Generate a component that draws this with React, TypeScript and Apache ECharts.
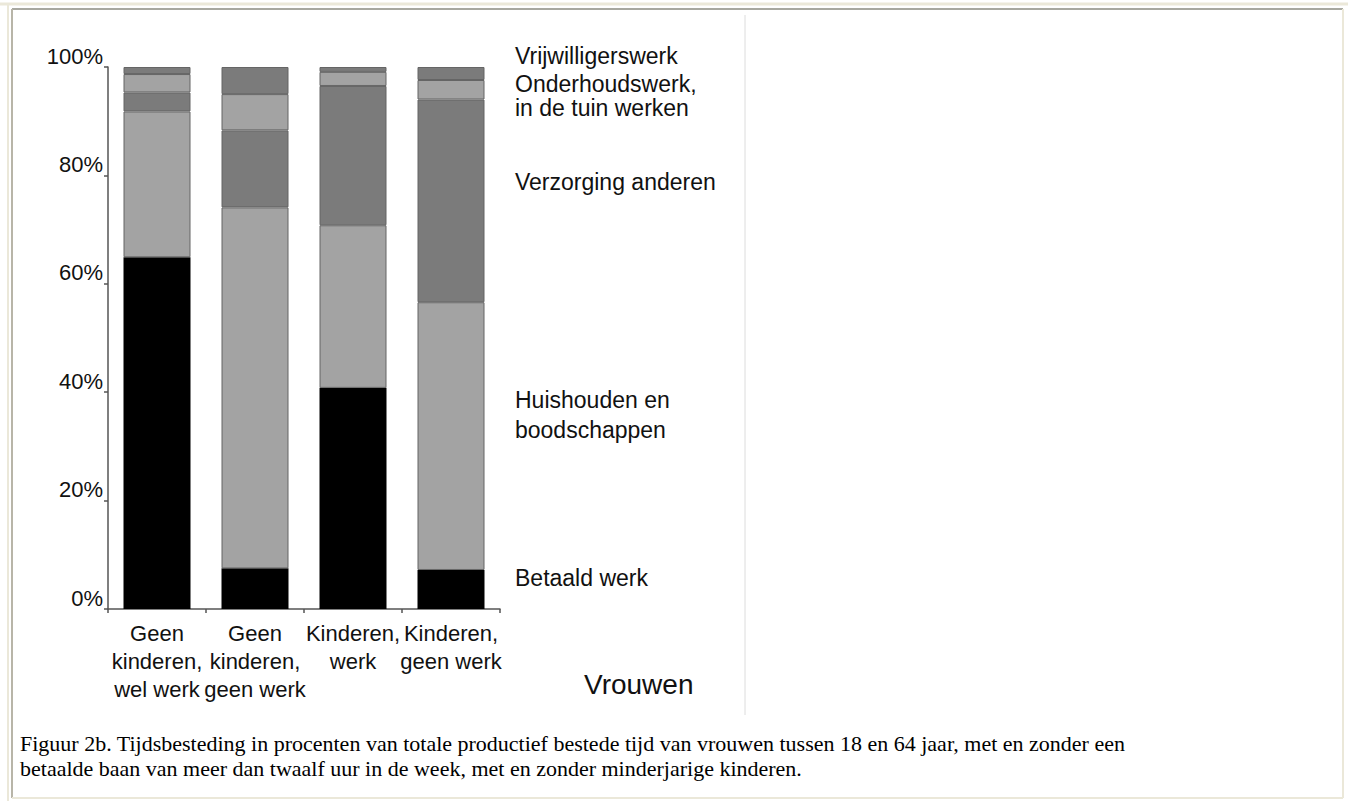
import React, { useEffect, useRef } from "react";
import * as echarts from "echarts";

const categories = [
  "Geen\nkinderen,\nwel werk",
  "Geen\nkinderen,\ngeen werk",
  "Kinderen,\nwerk",
  "Kinderen,\ngeen werk",
];
const seriesNames = [
  "Betaald werk",
  "Huishouden en\nboodschappen",
  "Verzorging anderen",
  "Onderhoudswerk,\nin de tuin werken",
  "Vrijwilligerswerk",
];
const betaald = [64.9, 7.5, 40.8, 7.2];
const huishouden = [26.9, 66.6, 30.0, 49.4];
const verzorging = [3.5, 14.2, 25.7, 37.4];
const onderhoud = [3.4, 6.7, 2.6, 3.6];
const vrijwilligers = [1.3, 5.0, 0.9, 2.4];
const yTicks = [0, 20, 40, 60, 80, 100];
const groupLabel = "Vrouwen";
const captionLines = [
  "Figuur 2b. Tijdsbesteding in procenten van totale productief bestede tijd van vrouwen tussen 18 en 64 jaar, met en zonder een",
  "betaalde baan van meer dan twaalf uur in de week, met en zonder minderjarige kinderen.",
];

const SANS = "'Liberation Sans', Arial, sans-serif";
const SERIF = "'Liberation Serif', 'Times New Roman', serif";

export default function App() {
  const ref = useRef<HTMLDivElement>(null);
  useEffect(() => {
    if (!ref.current) return;
    const chart = echarts.init(ref.current, undefined, { renderer: "svg" });
    const values = [betaald, huishouden, verzorging, onderhoud, vrijwilligers];
    const colors = ["#000000", "#a3a3a3", "#7b7b7b", "#a3a3a3", "#7b7b7b"];
    const series = values.map((v, i) => ({
      name: seriesNames[i],
      type: "bar",
      stack: "total",
      barWidth: 67,
      data: v,
      itemStyle: {
        color: colors[i],
        borderColor: i === 0 ? "#000" : "#656565",
        borderWidth: i === 0 ? 0 : 1,
      },
    }));
    const labelY = [578, 415, 182, 96, 56];
    const labelLH = [24, 30, 24, 24, 24];
    const labelTexts = seriesNames.map((n, i) => ({
      type: "text",
      x: 515,
      y: labelY[i],
      style: {
        text: n,
        font: `23px ${SANS}`,
        fill: "#111",
        textVerticalAlign: "middle",
        lineHeight: labelLH[i],
      },
    }));
    chart.setOption({
      animation: false,
      backgroundColor: "#ffffff",
      grid: { left: 108, top: 67, width: 392, height: 542 },
      xAxis: {
        type: "category",
        data: categories,
        axisLine: { show: true, lineStyle: { color: "#555", width: 1.5 } },
        axisTick: { show: true, length: 4, lineStyle: { color: "#555", width: 1.5 } },
        axisLabel: {
          interval: 0,
          margin: 10,
          fontSize: 22,
          lineHeight: 28,
          fontFamily: SANS,
          color: "#111",
        },
      },
      yAxis: {
        type: "value",
        min: 0,
        max: 100,
        interval: 20,
        axisLine: { show: true, lineStyle: { color: "#555", width: 1.5 } },
        axisTick: { show: true, length: 4, lineStyle: { color: "#555", width: 1.5 } },
        splitLine: { show: false },
        axisLabel: {
          formatter: (v: number) => (yTicks.includes(v) ? `${v}%` : ""),
          verticalAlign: "bottom",
          margin: 5,
          fontSize: 22,
          fontFamily: SANS,
          color: "#111",
        },
      },
      series,
      graphic: [
        { type: "line", shape: { x1: 0, y1: 4, x2: 1348, y2: 4 }, style: { stroke: "#ebe8d9", lineWidth: 3 } },
        { type: "line", shape: { x1: 8, y1: 4, x2: 8, y2: 801 }, style: { stroke: "#ebe8d9", lineWidth: 2 } },
        { type: "line", shape: { x1: 12, y1: 9, x2: 1343, y2: 9 }, style: { stroke: "#a8a8a0", lineWidth: 2 } },
        { type: "line", shape: { x1: 12, y1: 9, x2: 12, y2: 798 }, style: { stroke: "#b8b5a8", lineWidth: 2 } },
        { type: "line", shape: { x1: 1343, y1: 9, x2: 1343, y2: 798 }, style: { stroke: "#ebe8d9", lineWidth: 2 } },
        { type: "line", shape: { x1: 12, y1: 798, x2: 1343, y2: 798 }, style: { stroke: "#ebe8d9", lineWidth: 2 } },
        { type: "line", shape: { x1: 745, y1: 15, x2: 745, y2: 715 }, style: { stroke: "#dcdcdc", lineWidth: 1 } },
        ...labelTexts,
        {
          type: "text",
          x: 584,
          y: 684,
          style: { text: groupLabel, font: `28px ${SANS}`, fill: "#111", textVerticalAlign: "middle" },
        },
        ...captionLines.map((t, i) => ({
          type: "text",
          x: 20,
          y: 743 + i * 25,
          style: { text: t, font: `22px ${SERIF}`, fill: "#000", textVerticalAlign: "middle" },
        })),
      ],
    });
    return () => chart.dispose();
  }, []);
  return (
    <div
      ref={ref}
      style={{ position: "fixed", left: 0, top: 0, width: 1348, height: 801, background: "#fff" }}
    />
  );
}
